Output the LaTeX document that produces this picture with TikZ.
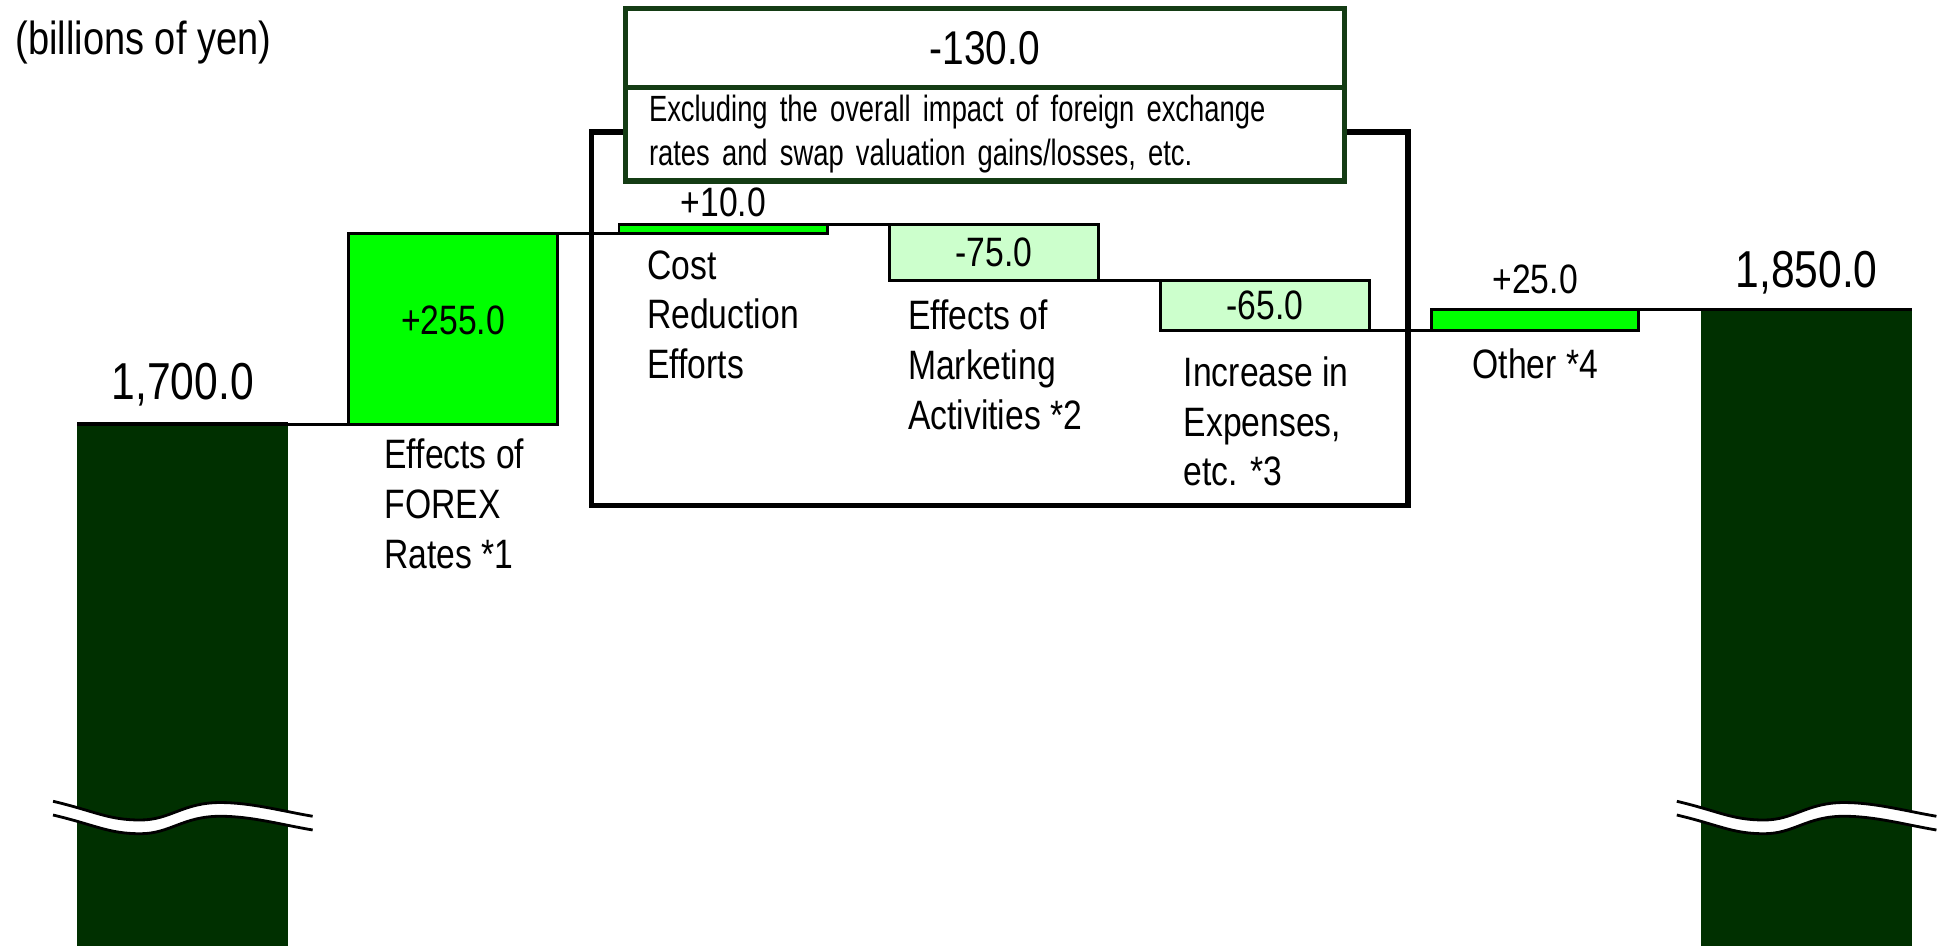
\documentclass[tikz,border=0pt]{standalone}
\usepackage{fontspec}
\setmainfont[FakeStretch=0.82]{Liberation Sans}
\newfontfamily\notefont[FakeStretch=0.75]{Liberation Sans}
\usetikzlibrary{positioning}
\definecolor{bardark}{RGB}{0,48,0}
\definecolor{boxedge}{RGB}{20,60,20}
\definecolor{gainfill}{RGB}{0,255,0}
\definecolor{lossfill}{RGB}{204,255,204}
\newcommand{\px}{0.0125cm}
\tikzset{
  endbar/.style={fill=bardark,inner sep=0pt,outer sep=0pt,minimum width=169*\px},
  stepbar/.style={draw,line width=0.8pt,inner sep=0pt,outer sep=0pt,
                  minimum width=167*\px,font=\fontsize{11.7}{14}\selectfont},
  gain/.style={stepbar,fill=gainfill},
  loss/.style={stepbar,fill=lossfill},
  lbl/.style={inner sep=0pt,align=left,font=\fontsize{11.7}{14.2}\selectfont},
  val/.style={inner sep=0pt,font=\fontsize{11.7}{14}\selectfont},
  endval/.style={inner sep=0pt,font=\fontsize{14.8}{17}\selectfont},
  greenbox/.style={draw=boxedge,line width=1.5pt,fill=white,inner sep=0pt,
                   outer sep=0pt,minimum width=576*\px},
  link/.style={line width=0.8pt},
  topline/.style={line width=1.1pt},
}
\begin{document}
\begin{tikzpicture}[x=\px,y=-\px]
  \useasboundingbox (0,0) rectangle (1568,758);
  \node[anchor=west,inner sep=0pt,font=\fontsize{13.2}{16}\selectfont] (unit) at (12,34) {(billions of yen)};
  \node[draw,line width=1.6pt,minimum width=654*\px,minimum height=299*\px] (frame) at (801,255.5) {};
  \node[greenbox,minimum height=63*\px,font=\fontsize{13.5}{16}\selectfont] (total) at (789,38.5) {-130.0};
  \node[greenbox,minimum height=75*\px,inner xsep=19*\px,text width=538*\px,align=left,
        font=\notefont\fontsize{10.4}{12.6}\selectfont,below=0pt of total] (note)
        {Excluding the overall impact of foreign exchange\\rates and swap valuation gains/losses, etc.};
  \node[endbar,minimum height=418*\px] (base) at (146.5,549) {};
  \node[gain,minimum height=153*\px] (forex) at (363,263.5) {};
  \node[gain,minimum height=7*\px] (cost) at (579.5,183.5) {};
  \node[loss,minimum height=45*\px] (mkt) at (796.5,202.5) {-75.0};
  \node[loss,minimum height=40*\px] (exp) at (1013.5,245) {-65.0};
  \node[gain,minimum width=166*\px,minimum height=17*\px] (other) at (1230,256.5) {};
  \node[endbar,minimum height=510*\px] (final) at (1447.5,503) {};
  \draw[topline] (base.north west) -- (base.north east);
  \draw[topline] (final.north west) -- (final.north east);
  \draw[link] (base.north east) -- (forex.south west);
  \draw[link] (forex.north east) -- (cost.south west);
  \draw[link] (cost.north east) -- (mkt.north west);
  \draw[link] (mkt.south east) -- (exp.north west);
  \draw[link] (exp.south east) -- (other.south west);
  \draw[link] (other.north east) -- (final.north west);
  \node[endval,above=14*\px of base] (baseval) {1,700.0};
  \node[endval,above=12*\px of final] (finalval) {1,850.0};
  \node[val] (forexval) at ([yshift=7*\px]forex.center) {+255.0};
  \node[val,above=6*\px of cost] (costval) {+10.0};
  \node[val,above=12*\px of other] (otherval) {+25.0};
  \node[lbl,below right=11*\px and 28*\px of forex.south west] (forexlbl) {Effects of\\FOREX\\Rates *1};
  \node[lbl,below right=13*\px and 22*\px of cost.south west] (costlbl) {Cost\\Reduction\\Efforts};
  \node[lbl,below right=15*\px and 14*\px of mkt.south west] (mktlbl) {Effects of\\Marketing\\Activities *2};
  \node[lbl,below right=20*\px and 18*\px of exp.south west] (explbl) {Increase in\\Expenses,\\etc. *3};
  \node[lbl,below=14*\px of other] (otherlbl) {Other *4};
  \foreach \cx in {146.5,1447.5}{
    \begin{scope}[shift={(\cx,650)}]
      \fill[white] (-104,-8) .. controls (-70,0) and (-60,7) .. (-34,7)
        .. controls (-10,7) and (0,-7) .. (30,-7) .. controls (55,-7) and (80,0) .. (104,4)
        -- (104,15) .. controls (80,11) and (55,4) .. (30,4)
        .. controls (0,4) and (-10,18) .. (-34,18) .. controls (-60,18) and (-70,11) .. (-104,3) -- cycle;
      \draw[line width=0.8pt] (-104,-8) .. controls (-70,0) and (-60,7) .. (-34,7)
        .. controls (-10,7) and (0,-7) .. (30,-7) .. controls (55,-7) and (80,0) .. (104,4);
      \draw[line width=0.8pt] (-104,3) .. controls (-70,11) and (-60,18) .. (-34,18)
        .. controls (-10,18) and (0,4) .. (30,4) .. controls (55,4) and (80,11) .. (104,15);
    \end{scope}
  }
\end{tikzpicture}
\end{document}
